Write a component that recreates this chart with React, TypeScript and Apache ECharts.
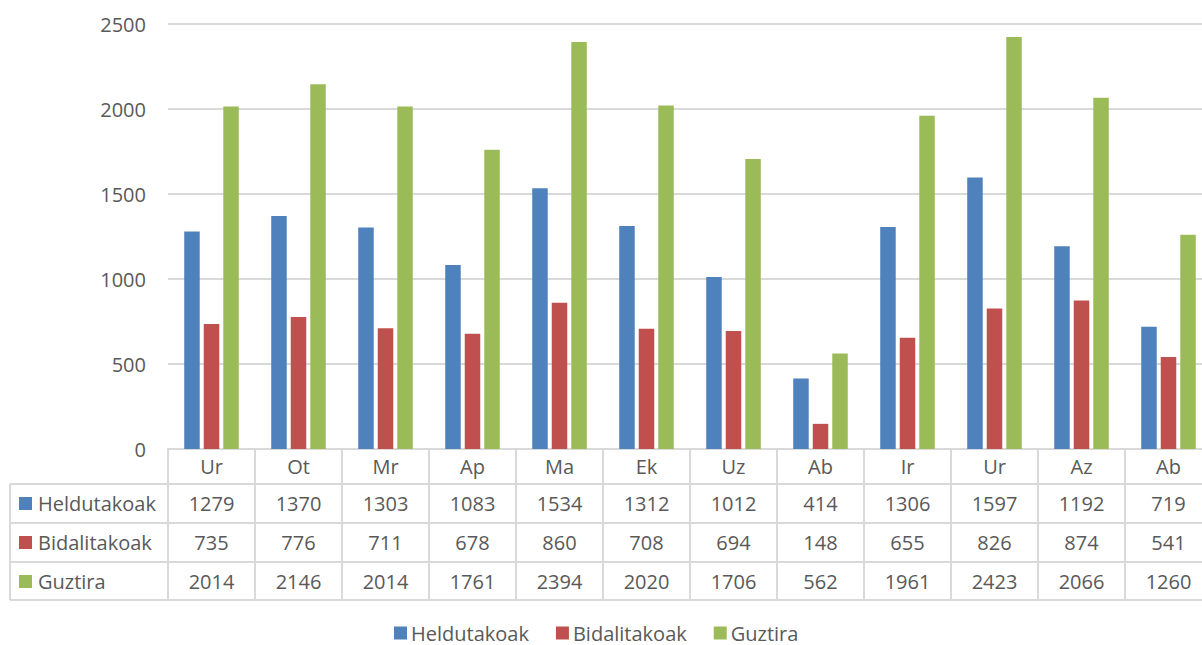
import React, { useEffect, useRef } from "react";
import * as echarts from "echarts";

const categories = ["Ur", "Ot", "Mr", "Ap", "Ma", "Ek", "Uz", "Ab", "Ir", "Ur", "Az", "Ab"];
const seriesNames = ["Heldutakoak", "Bidalitakoak", "Guztira"];
const heldutakoak = [1279, 1370, 1303, 1083, 1534, 1312, 1012, 414, 1306, 1597, 1192, 719];
const bidalitakoak = [735, 776, 711, 678, 860, 708, 694, 148, 655, 826, 874, 541];
const guztira = [2014, 2146, 2014, 1761, 2394, 2020, 1706, 562, 1961, 2423, 2066, 1260];
const colors = ["#4F81BD", "#C0504D", "#9BBB59"];
const yTicks = [0, 500, 1000, 1500, 2000, 2500];

const FONT = "'Open Sans', sans-serif";
const TEXT = "#595959";
const LINE = "#d9d9d9";

export default function App() {
  const ref = useRef<HTMLDivElement>(null);
  useEffect(() => {
    if (!ref.current) return;
    const chart = echarts.init(ref.current, undefined, { renderer: "svg" });
    const values = [heldutakoak, bidalitakoak, guztira];
    const plotLeft = 168;
    const tableTop = 449;
    const rowLines = [484, 523, 562, 600];
    const rowCenters = [503.5, 542.5, 581.5];
    const graphic: any[] = [];
    rowLines.forEach((y) => {
      graphic.push({
        type: "line",
        shape: { x1: 10, y1: y, x2: 1212, y2: y },
        style: { stroke: LINE, lineWidth: 2 },
        silent: true,
      });
    });
    graphic.push({
      type: "line",
      shape: { x1: 10, y1: rowLines[0], x2: 10, y2: rowLines[3] },
      style: { stroke: LINE, lineWidth: 2 },
      silent: true,
    });
    seriesNames.forEach((name, i) => {
      graphic.push({
        type: "rect",
        shape: { x: 19, y: rowCenters[i] - 6.5, width: 13, height: 13 },
        style: { fill: colors[i] },
        silent: true,
      });
      graphic.push({
        type: "text",
        x: 38,
        y: rowCenters[i],
        style: {
          text: name,
          fill: TEXT,
          font: `20px ${FONT}`,
          textVerticalAlign: "middle",
          verticalAlign: "middle",
        },
        silent: true,
      });
    });

    chart.setOption({
      animation: false,
      textStyle: { fontFamily: FONT },
      grid: { left: plotLeft, right: 8, top: 24, bottom: 645 - tableTop, containLabel: false },
      legend: {
        top: 623,
        left: 394,
        padding: 0,
        icon: "rect",
        itemWidth: 13,
        itemHeight: 13,
        itemGap: 27,
        data: seriesNames,
        textStyle: { color: TEXT, fontSize: 20, lineHeight: 20, fontFamily: FONT, padding: [0, 0, 0, -1] },
      },
      xAxis: {
        type: "category",
        data: categories,
        axisLine: { show: true, lineStyle: { color: LINE, width: 2 } },
        axisTick: { show: true, length: 151, interval: 0, lineStyle: { color: LINE, width: 2 } },
        axisLabel: {
          interval: 0,
          margin: 0,
          formatter: (v: string, idx: number) =>
            `{c|${v}}\n{r|${heldutakoak[idx]}}\n{r|${bidalitakoak[idx]}}\n{r|${guztira[idx]}}`,
          rich: {
            c: { fontSize: 20, fontFamily: FONT, color: TEXT, lineHeight: 35, height: 35 },
            r: { fontSize: 20, fontFamily: FONT, color: TEXT, lineHeight: 39, height: 39 },
          },
        },
      },
      yAxis: {
        type: "value",
        min: 0,
        max: 2500,
        interval: 500,
        axisLine: { show: false },
        axisTick: { show: false },
        axisLabel: {
          color: TEXT,
          fontSize: 20,
          fontFamily: FONT,
          margin: 22,
          formatter: (v: number) => (yTicks.includes(v) ? String(v) : ""),
        },
        splitLine: { lineStyle: { color: LINE, width: 2 } },
      },
      series: seriesNames.map((name, i) => ({
        name,
        type: "bar",
        data: values[i],
        barWidth: 15.5,
        barGap: "26%",
        itemStyle: { color: colors[i] },
      })),
      graphic,
    });
    return () => chart.dispose();
  }, []);
  return (
    <div
      style={{
        position: "fixed",
        left: 0,
        top: 0,
        width: 1202,
        height: 645,
        overflow: "hidden",
        background: "#fff",
      }}
    >
      <div ref={ref} style={{ position: "absolute", left: 0, top: 0, width: 1220, height: 645 }} />
    </div>
  );
}
